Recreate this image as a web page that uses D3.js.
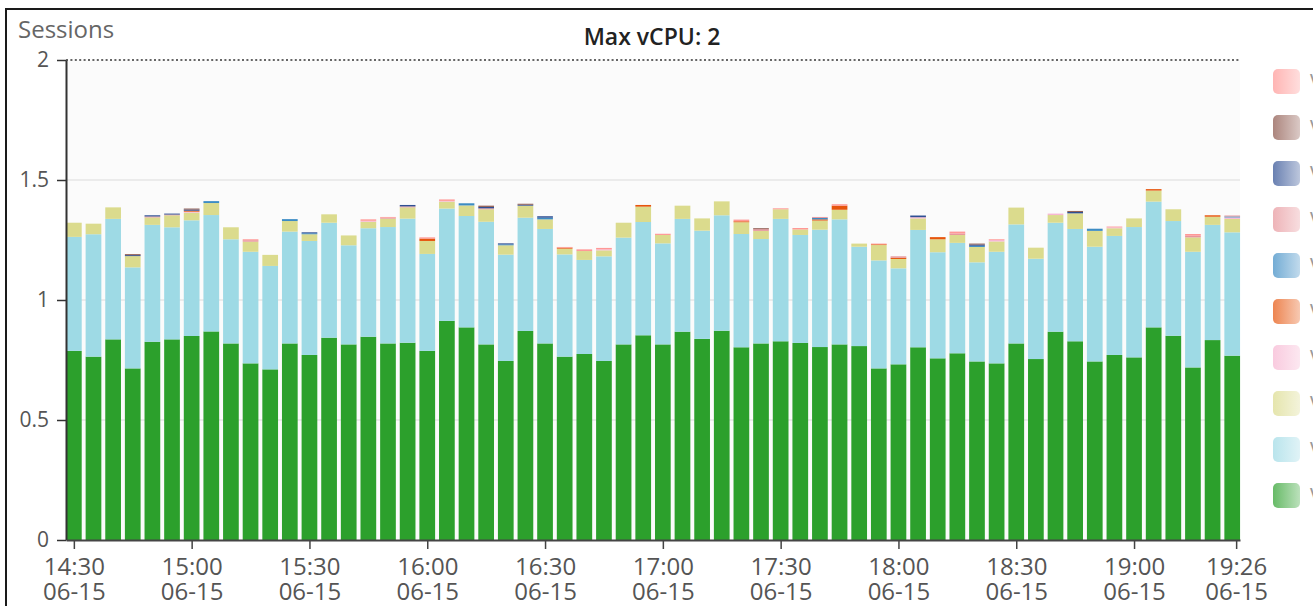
<!DOCTYPE html>
<html>
<head>
<meta charset="utf-8">
<script src="https://cdn.jsdelivr.net/npm/d3@7/dist/d3.min.js"></script>
<style>
  html, body { margin: 0; padding: 0; background: #fff; }
  svg { display: block; font-family: "Open Sans", "Noto Sans", sans-serif; }
</style>
</head>
<body>
<svg id="chart" width="1313" height="606"></svg>
<script>
// 5-minute buckets on 2023-06-15
const times = [
  "14:30","14:35","14:40","14:45","14:50","14:55",
  "15:00","15:05","15:10","15:15","15:20","15:25","15:30","15:35","15:40","15:45","15:50","15:55",
  "16:00","16:05","16:10","16:15","16:20","16:25","16:30","16:35","16:40","16:45","16:50","16:55",
  "17:00","17:05","17:10","17:15","17:20","17:25","17:30","17:35","17:40","17:45","17:50","17:55",
  "18:00","18:05","18:10","18:15","18:20","18:25","18:30","18:35","18:40","18:45","18:50","18:55",
  "19:00","19:05","19:10","19:15","19:20","19:25"
];

// Sessions per VM, stacked bottom to top
const vm10 = [0.788,0.764,0.836,0.715,0.826,0.836,0.850,0.869,0.819,0.736,0.711,0.819,0.771,0.843,0.815,
              0.847,0.819,0.822,0.788,0.913,0.886,0.815,0.746,0.871,0.819,0.764,0.775,0.746,0.815,0.853,
              0.815,0.868,0.838,0.872,0.803,0.819,0.828,0.821,0.804,0.815,0.808,0.715,0.732,0.803,0.757,
              0.778,0.744,0.736,0.819,0.754,0.868,0.828,0.744,0.771,0.761,0.886,0.851,0.719,0.833,0.768];
const vm09 = [0.475,0.510,0.502,0.421,0.487,0.467,0.482,0.485,0.434,0.465,0.431,0.466,0.475,0.479,0.413,
              0.452,0.485,0.517,0.404,0.468,0.464,0.511,0.443,0.472,0.477,0.426,0.392,0.436,0.445,0.472,
              0.421,0.470,0.451,0.481,0.472,0.435,0.510,0.450,0.489,0.521,0.414,0.450,0.400,0.489,0.442,
              0.460,0.413,0.465,0.496,0.418,0.454,0.468,0.478,0.496,0.543,0.524,0.478,0.482,0.480,0.514];
const vm08 = [0.059,0.044,0.048,0.047,0.031,0.050,0.032,0.050,0.050,0.042,0.046,0.044,0.028,0.035,0.041,
              0.027,0.035,0.047,0.054,0.029,0.044,0.052,0.039,0.050,0.040,0.024,0.037,0.025,0.062,0.064,
              0.035,0.055,0.051,0.058,0.049,0.034,0.040,0.023,0.038,0.040,0.013,0.064,0.039,0.048,0.054,
              0.033,0.064,0.043,0.070,0.046,0.032,0.065,0.066,0.032,0.036,0.046,0.049,0.060,0.034,0.056];
const vm07 = [0,0,0,0,0,0,0.004,0,0,0, 0,0,0,0,0,0.004,0,0,0,0.003,
              0,0,0,0,0,0,0,0.004,0,0, 0,0,0,0,0,0,0,0,0,0,
              0,0,0,0.005,0,0,0,0.006,0,0, 0.006,0,0,0.004,0,0,0,0,0,0.006];
const vm06 = [0,0,0,0,0,0,0.004,0,0,0, 0,0,0,0,0,0,0,0,0.010,0,
              0,0,0,0,0,0.004,0,0,0,0.007, 0,0,0,0,0.004,0,0,0,0.005,0.017,
              0,0.003,0.005,0,0.009,0,0,0,0,0, 0,0,0,0,0,0.006,0,0,0.006,0];
const vm05 = [0,0,0,0,0,0,0,0.008,0,0, 0,0.008,0.004,0,0,0,0,0,0,0,
              0.009,0,0.004,0,0.007,0,0,0,0,0, 0,0,0,0,0,0,0,0,0.006,0,
              0,0,0,0,0,0,0.005,0,0,0, 0,0,0.009,0,0,0,0,0,0,0.004];
const vm04 = [0,0,0,0,0.004,0.003,0,0,0,0.006, 0,0,0,0,0,0,0.004,0.004,0,0,
              0,0.004,0,0,0,0,0,0,0,0, 0,0,0,0,0,0.007,0,0,0.004,0,
              0,0,0.006,0,0,0.006,0,0,0,0, 0,0,0,0,0,0,0,0.007,0,0.004];
const vm03 = [0,0,0,0.004,0.005,0.004,0.005,0,0,0, 0,0,0.004,0,0,0,0,0.006,0,0,
              0,0.006,0.004,0.004,0.006,0,0,0,0,0, 0,0,0,0,0,0,0,0,0,0,
              0,0,0,0.007,0,0,0.005,0,0,0, 0,0.006,0,0,0,0,0,0,0,0];
const vm02 = [0,0,0,0.004,0,0,0.004,0,0,0, 0,0,0,0,0,0,0,0,0,0,
              0,0.005,0,0.004,0,0,0,0,0,0, 0,0,0,0,0,0.004,0,0,0,0,
              0,0,0,0,0,0,0.004,0,0,0, 0,0.004,0,0,0,0,0,0,0,0];
const vm01 = [0,0,0,0,0,0,0,0,0,0.004, 0,0,0,0,0,0.006,0.003,0,0.005,0.006,
              0,0,0,0,0,0.003,0.007,0.006,0,0, 0.005,0,0,0,0.007,0,0.004,0.006,0,0.006,
              0,0.003,0,0,0,0.008,0,0.003,0,0, 0,0,0,0.003,0,0,0,0.007,0,0];

const seriesNames  = ["VM-10","VM-09","VM-08","VM-07","VM-06","VM-05","VM-04","VM-03","VM-02","VM-01"];
const seriesValues = [vm10, vm09, vm08, vm07, vm06, vm05, vm04, vm03, vm02, vm01];
const seriesColors = ["#2ca02c","#9edae5","#dbdb8d","#f7b6d2","#e6550d","#3d8cc4","#e7969c","#2f4f93","#8c564b","#ff9896"];

const yTicks = [0, 0.5, 1, 1.5, 2];
const xTickTimes = ["14:30","15:00","15:30","16:00","16:30","17:00","17:30","18:00","18:30","19:00","19:26"];
const xTickDate = "06-15";
const titleText = "Max vCPU: 2";
const yAxisTitle = "Sessions";

const day = "2023-06-15 ";
const parse = d3.timeParse("%Y-%m-%d %H:%M:%S");
const toDate = hm => parse(day + hm + ":00");

const rows = times.map((t, i) => {
  const r = { time: toDate(t) };
  seriesNames.forEach((n, k) => r[n] = seriesValues[k][i]);
  return r;
});

const svg = d3.select("#chart");
const plotLeft = 66, plotRight = 1240, plotTop = 60, plotBottom = 540;

const x = d3.scaleTime()
  .domain([d3.timeMinute.offset(toDate(times[0]), -2), parse(day + "19:26:59")])
  .range([plotLeft, plotRight]);
const y = d3.scaleLinear().domain([0, 2]).range([plotBottom, plotTop]);

// outer frame
svg.append("path")
  .attr("d", "M6,606V9H1313")
  .attr("fill", "none").attr("stroke", "#1a1a1a").attr("stroke-width", 2);

// plot background
svg.append("rect")
  .attr("x", plotLeft).attr("y", plotTop).attr("width", plotRight - plotLeft).attr("height", plotBottom - plotTop)
  .attr("fill", "#fbfbfb");

// grid
svg.append("g").selectAll("line").data(yTicks.filter(v => v > 0 && v < 2)).join("line")
  .attr("x1", plotLeft).attr("x2", plotRight)
  .attr("y1", d => y(d)).attr("y2", d => y(d))
  .attr("stroke", "#e6e6e6").attr("stroke-width", 1.5);

// capacity line at the top
svg.append("line")
  .attr("x1", plotLeft).attr("x2", plotRight).attr("y1", y(2)).attr("y2", y(2))
  .attr("stroke", "#666").attr("stroke-width", 2).attr("stroke-dasharray", "2,2.4");

// stacked bars
const stack = d3.stack().keys(seriesNames)(rows);
const layer = svg.append("g").selectAll("g").data(stack).join("g")
  .attr("fill", (d, i) => seriesColors[i]);
layer.selectAll("rect").data(d => d).join("rect")
  .attr("x", d => x(d3.timeMinute.offset(d.data.time, -2)))
  .attr("width", d => x(d3.timeMinute.offset(d.data.time, 2)) - x(d3.timeMinute.offset(d.data.time, -2)))
  .attr("y", d => y(d[1]))
  .attr("height", d => Math.max(0, y(d[0]) - y(d[1])));

// y axis
const yAxis = svg.append("g").attr("transform", `translate(${plotLeft},0)`)
  .call(d3.axisLeft(y).tickValues(yTicks).tickFormat(d3.format("~g")).tickSize(9).tickSizeOuter(0).tickPadding(8));
yAxis.select(".domain").attr("stroke", "#333").attr("stroke-width", 2);
yAxis.selectAll(".tick line").attr("stroke", "#333").attr("stroke-width", 1.5);
yAxis.selectAll(".tick text").attr("font-size", 21).attr("fill", "#555")
  .attr("font-family", "'Open Sans', sans-serif");

// x axis: time on the first line, date on the second
const xAxis = svg.append("g").attr("transform", `translate(0,${plotBottom})`)
  .call(d3.axisBottom(x).tickValues(xTickTimes.map(toDate)).tickSize(9).tickSizeOuter(0).tickFormat(""));
xAxis.select(".domain").attr("stroke", "#444").attr("stroke-width", 2);
xAxis.selectAll(".tick line").attr("stroke", "#444").attr("stroke-width", 1.5);
xAxis.selectAll(".tick").each(function (d, i) {
  const g = d3.select(this);
  g.select("text").remove();
  [xTickTimes[i], xTickDate].forEach((s, j) => {
    g.append("text")
      .attr("x", 0).attr("y", 35 + j * 25)
      .attr("text-anchor", "middle")
      .attr("font-size", 24).attr("fill", "#555")
      .attr("font-family", "'Open Sans', sans-serif")
      .text(s);
  });
});

// titles
svg.append("text")
  .attr("x", 652).attr("y", 45).attr("text-anchor", "middle")
  .attr("font-size", 23).attr("font-weight", 600).attr("fill", "#222")
  .text(titleText);
svg.append("text")
  .attr("x", 18).attr("y", 38)
  .attr("font-size", 24).attr("fill", "#666")
  .text(yAxisTitle);

// legend (top entry = top of stack)
const defs = svg.append("defs");
seriesColors.forEach((c, i) => {
  const g = defs.append("linearGradient").attr("id", "lg" + i);
  g.append("stop").attr("offset", "0%").attr("stop-color", c).attr("stop-opacity", 0.72);
  g.append("stop").attr("offset", "100%").attr("stop-color", c).attr("stop-opacity", 0.32);
});
const legendOrder = d3.range(seriesNames.length).reverse();
const legend = svg.append("g").selectAll("g").data(legendOrder).join("g")
  .attr("transform", (k, i) => `translate(1273,${69 + i * 46})`);
legend.append("rect")
  .attr("width", 27).attr("height", 25).attr("rx", 5)
  .attr("fill", k => `url(#lg${k})`);
legend.append("text")
  .attr("x", 37).attr("y", 13).attr("dominant-baseline", "central")
  .attr("font-size", 21).attr("fill", "#999")
  .text(k => seriesNames[k]);
</script>
</body>
</html>
